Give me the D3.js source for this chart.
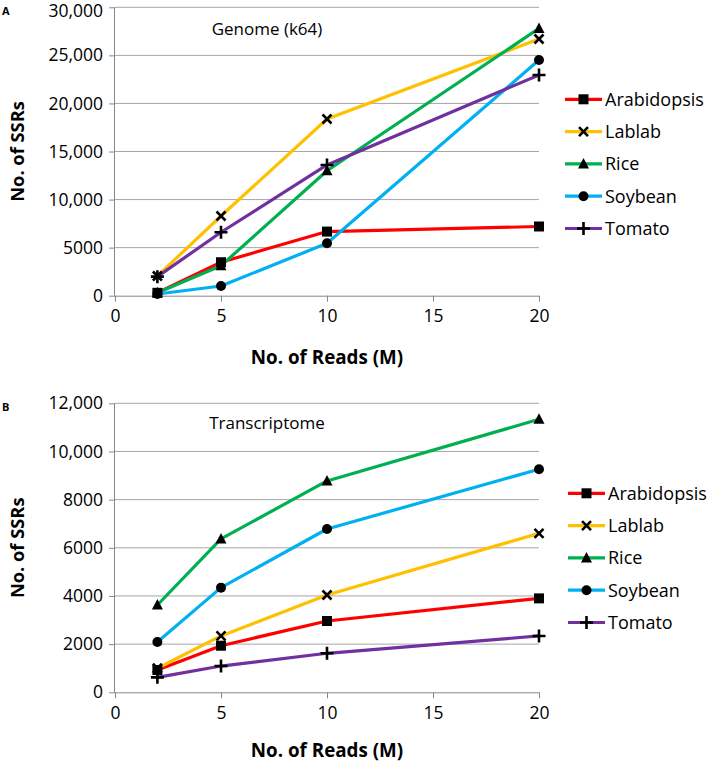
<!DOCTYPE html>
<html><head><meta charset="utf-8">
<script src="https://cdn.jsdelivr.net/npm/d3@7/dist/d3.min.js"></script>
<style>body{margin:0;background:#fff;font-family:"Open Sans",sans-serif;}</style>
</head><body>
<svg id="c" width="709" height="762"></svg>
<script>
const reads = [2, 5, 10, 20];
const species = ["Arabidopsis", "Lablab", "Rice", "Soybean", "Tomato"];
const xTicks = [0, 5, 10, 15, 20];
const genomeTicks = [0, 5000, 10000, 15000, 20000, 25000, 30000];
const transTicks = [0, 2000, 4000, 6000, 8000, 10000, 12000];
const genomeArabidopsis = [300, 3480, 6670, 7200];
const genomeLablab = [2050, 8290, 18380, 26700];
const genomeRice = [300, 3120, 13000, 27800];
const genomeSoybean = [180, 1010, 5450, 24520];
const genomeTomato = [1980, 6600, 13600, 22960];
const transArabidopsis = [925, 1935, 2960, 3900];
const transLablab = [1000, 2340, 4040, 6600];
const transRice = [3625, 6370, 8775, 11335];
const transSoybean = [2090, 4345, 6780, 9260];
const transTomato = [620, 1090, 1620, 2340];

const colors = ["#ff0000", "#ffc000", "#00b050", "#00b0f0", "#7030a0"];
const markers = ["square", "cross", "triangle", "circle", "plus"];

const svg = d3.select("#c");
const fmt = v => v >= 10000 ? d3.format(",")(v) : String(v);

function marker(g, type, x, y) {
  if (type === "square") g.append("rect").attr("x", x-5).attr("y", y-5).attr("width", 10).attr("height", 10).attr("fill", "#000");
  else if (type === "circle") g.append("circle").attr("cx", x).attr("cy", y).attr("r", 5).attr("fill", "#000");
  else if (type === "triangle") g.append("path").attr("d", `M${x},${y-6}L${x+5.5},${y+4.5}L${x-5.5},${y+4.5}Z`).attr("fill", "#000");
  else if (type === "cross") g.append("path").attr("d", `M${x-4.5},${y-4.5}L${x+4.5},${y+4.5}M${x+4.5},${y-4.5}L${x-4.5},${y+4.5}`).attr("stroke", "#000").attr("stroke-width", 2.6);
  else if (type === "plus") g.append("path").attr("d", `M${x-6.5},${y}L${x+6.5},${y}M${x},${y-6.5}L${x},${y+6.5}`).attr("stroke", "#000").attr("stroke-width", 2.6);
}

function panel(cfg) {
  const x = d3.scaleLinear().domain([0, 20]).range([115, 539]);
  const y = d3.scaleLinear().domain([0, cfg.max]).range([cfg.y0, cfg.y1]);
  const g = svg.append("g");
  g.selectAll(".grid").data(cfg.ticks.filter(t => t > 0)).join("line")
    .attr("x1", 115).attr("x2", 539).attr("y1", d => y(d)).attr("y2", d => y(d))
    .attr("stroke", "#a6a6a6").attr("stroke-width", 1);
  const ya = g.append("g").attr("transform", "translate(115,0)")
    .call(d3.axisLeft(y).tickValues(cfg.ticks).tickFormat(fmt).tickSize(6).tickPadding(6));
  ya.select(".domain").attr("stroke", "#868686").attr("d", `M-0.5,${cfg.y0}V${cfg.y1}`);
  ya.selectAll(".tick line").attr("stroke", "#868686");
  ya.selectAll("text").attr("font-size", 17.5).attr("fill", "#000").attr("font-family", "Open Sans")
    .attr("dy", d => (d === cfg.max && cfg.y1 < 20) ? "0.55em" : "0.32em");
  const xa = g.append("g").attr("transform", `translate(0,${cfg.y0})`)
    .call(d3.axisBottom(x).tickValues(xTicks).tickSize(6).tickPadding(8));
  xa.select(".domain").attr("stroke", "#868686").attr("d", `M115,0.5H539`);
  xa.selectAll(".tick line").attr("stroke", "#868686");
  xa.selectAll("text").attr("font-size", 17.5).attr("fill", "#000").attr("font-family", "Open Sans");
  g.append("text").attr("x", 327).attr("y", cfg.xTitleY).attr("text-anchor", "middle")
    .attr("font-weight", "bold").attr("font-size", 18.8).text("No. of Reads (M)");
  g.append("text").attr("transform", `translate(24,${(cfg.y0+cfg.y1)/2}) rotate(-90)`).attr("text-anchor", "middle")
    .attr("font-weight", "bold").attr("font-size", 18.3).text("No. of SSRs");
  g.append("text").attr("x", 2).attr("y", cfg.y1 + 8).attr("font-weight", "bold").attr("font-size", 11).text(cfg.letter);
  g.append("text").attr("x", 267).attr("y", cfg.labelY).attr("text-anchor", "middle").attr("font-size", 17).text(cfg.label);
  const line = d3.line().x((d, i) => x(reads[i])).y(d => y(d));
  cfg.series.forEach((s, k) => {
    g.append("path").attr("d", line(s)).attr("fill", "none").attr("stroke", colors[k]).attr("stroke-width", 3.2).attr("stroke-linejoin", "round");
  });
  cfg.series.forEach((s, k) => {
    s.forEach((v, i) => marker(g, markers[k], x(reads[i]), y(v)));
  });
  species.forEach((name, k) => {
    const ly = cfg.legY + k * 32.3;
    g.append("line").attr("x1", cfg.legX).attr("x2", cfg.legX + 37).attr("y1", ly).attr("y2", ly).attr("stroke", colors[k]).attr("stroke-width", 3.2);
    marker(g, markers[k], cfg.legX + 18.5, ly);
    g.append("text").attr("x", cfg.legX + 40).attr("y", ly).attr("dy", "0.35em").attr("font-size", 18).text(name);
  });
}

panel({max: 30000, y0: 295.7, y1: 7.3, ticks: genomeTicks, xTitleY: 364, letter: "A", label: "Genome (k64)", labelY: 35,
  series: [genomeArabidopsis, genomeLablab, genomeRice, genomeSoybean, genomeTomato], legX: 565, legY: 99.3});
panel({max: 12000, y0: 692.3, y1: 403.3, ticks: transTicks, xTitleY: 757, letter: "B", label: "Transcriptome", labelY: 429,
  series: [transArabidopsis, transLablab, transRice, transSoybean, transTomato], legX: 568, legY: 493.3});
</script>
</body></html>
